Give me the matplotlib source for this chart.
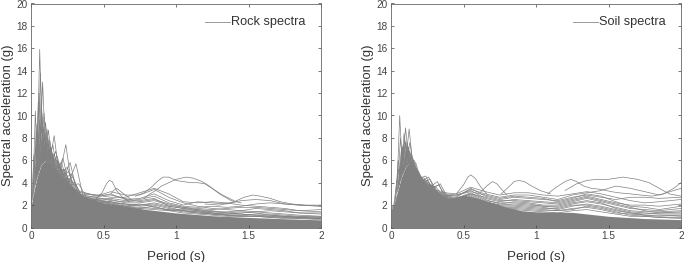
import numpy as np
import matplotlib
matplotlib.use('Agg')
import matplotlib.pyplot as plt

plt.rcParams['font.family'] = ['Liberation Sans', 'DejaVu Sans']

# solid lower mass of the spectra
mass_t = [0, 0.01, 0.02, 0.04, 0.07, 0.1, 0.13, 0.16, 0.2, 0.25, 0.3, 0.35, 0.4, 0.5, 0.6, 0.7, 0.8, 0.9, 1, 1.25, 1.5, 1.75, 2]
rock_mass = [1.8, 2.6, 3.2, 4.4, 5.6, 6.0, 5.8, 5.3, 4.8, 4.2, 3.5, 2.9, 2.6, 2.2, 2.0, 1.8, 1.6, 1.45, 1.3, 1.05, 0.9, 0.78, 0.68]
soil_mass = [1.5, 1.9, 2.1, 3.0, 4.4, 5.4, 5.8, 5.2, 4.4, 3.8, 3.4, 2.9, 2.6, 2.9, 2.6, 2.2, 1.8, 1.5, 1.4, 1.35, 1.0, 0.8, 0.7]

# short period peaks
rock_peak_t = [0.03, 0.04, 0.05, 0.06, 0.065, 0.07, 0.08, 0.09, 0.1, 0.11, 0.12, 0.13, 0.14, 0.15, 0.16, 0.17, 0.18, 0.19, 0.2, 0.22, 0.24, 0.25, 0.27, 0.28, 0.29, 0.31, 0.33,
               0.02, 0.045, 0.075, 0.085, 0.095, 0.105, 0.125, 0.145, 0.055, 0.035, 0.115, 0.135, 0.21,
               0.03, 0.05, 0.07, 0.09, 0.11, 0.13, 0.15, 0.17, 0.19, 0.21, 0.23, 0.26, 0.3, 0.025, 0.06, 0.08, 0.1, 0.12, 0.14, 0.16, 0.18, 0.2, 0.22, 0.24, 0.28]
rock_peak_g = [10.4, 9.2, 11.2, 15.9, 13.8, 11.5, 13.0, 10.2, 9.4, 8.8, 8.7, 7.8, 7.0, 7.4, 8.2, 6.8, 6.4, 5.9, 5.6, 6.2, 7.4, 5.4, 5.8, 4.8, 4.5, 5.7, 3.9,
               6.5, 8.0, 10.0, 9.0, 8.5, 8.2, 7.5, 6.5, 12.0, 8.6, 8.0, 7.2, 5.0,
               7.2, 8.4, 9.0, 8.0, 7.6, 7.0, 6.6, 6.2, 5.6, 5.8, 5.2, 5.0, 4.0, 5.6, 9.6, 8.6, 7.6, 7.2, 6.8, 6.6, 6.0, 5.4, 5.2, 4.8, 4.2]
soil_peak_t = [0.02, 0.04, 0.05, 0.06, 0.07, 0.08, 0.09, 0.1, 0.11, 0.12, 0.125, 0.13, 0.14, 0.15, 0.16, 0.17, 0.18, 0.2, 0.23, 0.24, 0.26, 0.28, 0.32, 0.34, 0.36,
               0.075, 0.085, 0.095, 0.105, 0.115, 0.135, 0.145, 0.065, 0.22, 0.25, 0.3,
               0.05, 0.07, 0.09, 0.11, 0.13, 0.15, 0.17, 0.19, 0.21, 0.23, 0.27, 0.29, 0.33, 0.08, 0.1, 0.12, 0.14, 0.16, 0.18, 0.2, 0.26, 0.31]
soil_peak_g = [2.1, 4.2, 6.0, 10.0, 6.0, 6.4, 8.4, 8.9, 7.2, 7.0, 8.8, 7.6, 6.4, 6.0, 6.0, 5.4, 5.0, 4.2, 4.4, 4.6, 4.5, 3.8, 4.1, 3.9, 3.2,
               7.0, 7.4, 7.8, 6.8, 6.6, 6.2, 5.6, 8.0, 4.2, 4.2, 3.4,
               5.2, 6.8, 7.2, 7.6, 6.8, 6.2, 5.8, 5.0, 4.4, 4.2, 4.3, 3.6, 3.8, 7.2, 7.6, 7.2, 6.6, 5.6, 5.2, 4.6, 4.0, 3.6]

# longer period spectra
long_t = [0.3, 0.45, 0.55, 0.65, 0.75, 0.85, 0.95, 1.05, 1.15, 1.25, 1.35, 1.45, 1.55, 1.65, 1.75, 1.85, 2]
rock_long = [
    [3.4, 2.8, 3.2, 2.9, 2.9, 3.4, 2.7, 2.2, 1.9, 1.7, 1.6, 1.5, 1.4, 1.3, 1.2, 1.1, 1.0],
    [3.2, 2.9, 2.7, 2.7, 3.1, 3.5, 3.0, 2.3, 2.2, 2.3, 2.2, 2.0, 1.9, 1.8, 1.7, 1.5, 1.4],
    [3.0, 2.7, 3.0, 2.5, 2.6, 3.0, 2.4, 2.0, 2.3, 2.2, 2.1, 2.4, 2.5, 2.4, 2.1, 2.0, 1.9],
    [2.9, 2.5, 2.6, 2.4, 2.5, 2.8, 2.2, 1.9, 1.8, 1.9, 1.8, 1.9, 2.1, 2.2, 2.1, 2.0, 1.9],
    [2.8, 2.6, 2.5, 2.2, 2.2, 2.4, 2.0, 1.8, 1.7, 1.6, 1.7, 1.8, 1.8, 1.7, 1.6, 1.5, 1.6],
    [2.7, 2.4, 2.3, 2.0, 2.0, 2.2, 1.9, 1.7, 1.5, 1.4, 1.4, 1.5, 1.7, 1.6, 1.5, 1.3, 1.2],
    [2.6, 2.3, 2.2, 2.1, 1.9, 2.0, 1.7, 1.5, 1.4, 1.3, 1.2, 1.3, 1.4, 1.5, 1.4, 1.3, 1.3],
    [2.5, 2.2, 2.0, 1.9, 2.1, 1.8, 1.6, 1.4, 1.3, 1.2, 1.1, 1.1, 1.2, 1.2, 1.1, 1.0, 1.0],
    [2.6, 2.5, 2.1, 1.8, 1.7, 1.9, 1.5, 1.6, 1.5, 1.3, 1.1, 1.0, 1.0, 0.9, 0.9, 0.9, 0.8],
    [3.0, 2.9, 2.9, 2.6, 2.3, 2.5, 2.1, 1.8, 1.6, 1.5, 1.3, 1.2, 1.1, 1.1, 1.0, 0.9, 0.9],
    [2.9, 2.7, 2.4, 2.3, 2.4, 2.6, 1.9, 1.7, 1.6, 1.4, 1.3, 1.4, 1.3, 1.1, 1.0, 1.0, 0.9],
    [2.8, 2.5, 2.3, 2.1, 2.0, 2.1, 1.8, 1.5, 1.4, 1.2, 1.2, 1.2, 1.1, 1.0, 1.0, 0.9, 0.8],
    [2.7, 2.4, 2.2, 1.9, 1.8, 1.7, 1.6, 1.5, 1.3, 1.2, 1.1, 1.1, 1.0, 1.0, 0.9, 0.8, 0.8],
    [2.6, 2.3, 2.1, 1.9, 1.7, 1.6, 1.5, 1.3, 1.2, 1.1, 1.0, 1.0, 1.0, 0.9, 0.8, 0.8, 0.7],
]
soil_long = [
    [3.2, 3.0, 3.6, 3.2, 2.9, 3.1, 3.1, 2.9, 2.8, 3.0, 3.2, 3.0, 2.7, 2.4, 2.2, 2.3, 2.5],
    [3.0, 2.8, 3.4, 3.0, 2.7, 2.9, 2.9, 2.7, 2.5, 2.9, 3.1, 3.3, 3.7, 3.5, 3.2, 2.9, 3.5],
    [2.9, 2.7, 3.5, 2.8, 2.5, 2.7, 2.6, 2.5, 2.4, 2.7, 2.9, 2.7, 2.5, 2.7, 2.7, 2.6, 2.7],
    [2.8, 2.9, 3.3, 2.6, 2.3, 2.5, 2.4, 2.3, 2.2, 2.5, 2.8, 2.5, 2.2, 2.0, 2.0, 1.9, 2.1],
    [2.7, 2.6, 3.1, 2.5, 2.1, 2.3, 2.2, 2.0, 2.0, 2.3, 2.6, 2.3, 2.0, 1.7, 1.6, 1.5, 1.7],
    [2.6, 2.5, 2.9, 2.3, 2.0, 2.1, 2.0, 1.9, 1.8, 2.1, 2.3, 2.1, 1.8, 1.5, 1.4, 1.4, 1.5],
    [2.5, 2.4, 2.8, 2.2, 1.9, 1.9, 1.8, 1.7, 1.7, 2.0, 2.0, 1.8, 1.5, 1.3, 1.2, 1.3, 1.3],
    [2.4, 2.3, 2.6, 2.1, 1.8, 1.8, 1.7, 1.6, 1.5, 1.7, 1.8, 1.6, 1.3, 1.2, 1.1, 1.0, 1.1],
    [2.3, 2.2, 2.4, 1.9, 1.6, 1.6, 1.5, 1.4, 1.3, 1.5, 1.6, 1.4, 1.2, 1.0, 1.0, 0.9, 0.9],
    [3.1, 2.9, 3.2, 2.9, 2.6, 2.8, 2.7, 2.6, 2.3, 2.6, 3.0, 2.8, 2.3, 1.9, 1.8, 1.6, 1.9],
    [2.9, 2.6, 3.0, 2.7, 2.4, 2.4, 2.3, 2.2, 2.1, 2.4, 2.7, 2.4, 2.1, 1.8, 1.5, 1.3, 1.4],
    [2.8, 2.5, 3.0, 2.4, 2.2, 2.2, 2.1, 1.9, 1.9, 2.2, 2.4, 2.2, 1.7, 1.4, 1.3, 1.2, 1.2],
    [2.7, 2.4, 2.7, 2.3, 2.0, 2.0, 1.9, 1.8, 1.6, 1.9, 2.1, 1.9, 1.6, 1.3, 1.1, 1.1, 1.0],
    [2.6, 2.4, 2.6, 2.0, 1.7, 1.7, 1.6, 1.5, 1.5, 1.6, 1.9, 1.7, 1.4, 1.1, 1.0, 0.9, 0.8],
]

# spectra that stand out above the rest
rock_hump_t = [
    [0.45, 0.49, 0.52, 0.54, 0.56, 0.59, 0.63, 0.68],
    [0.55, 0.57, 0.59, 0.62, 0.66, 0.7],
    [0.72, 0.78, 0.83, 0.87, 0.91, 0.95, 1.0, 1.05, 1.1, 1.15, 1.2, 1.26, 1.32, 1.4],
    [0.78, 0.82, 0.86, 0.9, 0.95, 1.0, 1.07, 1.12, 1.18, 1.23, 1.3, 1.38, 1.45],
    [1.2, 1.3, 1.4, 1.47, 1.53, 1.58, 1.65, 1.72, 1.8, 1.9, 2],
]
rock_hump_g = [
    [2.6, 3.1, 3.9, 4.2, 4.1, 3.3, 2.7, 2.3],
    [3.0, 3.3, 3.5, 3.2, 2.8, 2.4],
    [2.8, 3.1, 3.6, 4.1, 4.5, 4.5, 4.2, 4.1, 4.0, 4.0, 3.9, 3.4, 2.9, 2.4],
    [2.6, 3.0, 3.3, 3.7, 4.0, 4.3, 4.5, 4.4, 4.1, 3.7, 3.0, 2.4, 2.2],
    [2.1, 2.0, 2.3, 2.7, 2.9, 2.8, 2.6, 2.3, 2.1, 2.0, 2.0],
]
soil_hump_t = [
    [0.45, 0.5, 0.53, 0.55, 0.58, 0.62, 0.66],
    [0.62, 0.66, 0.7, 0.73, 0.77, 0.8],
    [0.76, 0.81, 0.85, 0.88, 0.92, 0.97, 1.03, 1.1],
    [1.08, 1.14, 1.2, 1.24, 1.28, 1.33, 1.38, 1.45, 1.52, 1.57, 1.65, 1.72, 1.8, 1.88, 1.95, 2],
    [1.2, 1.28, 1.35, 1.42, 1.5, 1.6, 1.7, 1.78, 1.85, 1.92, 2],
]
soil_hump_g = [
    [3.0, 3.8, 4.5, 4.7, 4.4, 3.6, 3.0],
    [3.2, 3.7, 4.1, 3.9, 3.3, 2.9],
    [3.0, 3.6, 4.1, 4.2, 4.1, 3.7, 3.3, 3.0],
    [3.0, 3.6, 4.1, 4.3, 4.1, 3.7, 3.5, 3.4, 3.2, 3.1, 3.0, 2.9, 2.8, 3.0, 3.5, 4.0],
    [3.3, 3.9, 4.2, 4.3, 4.3, 4.5, 4.3, 4.0, 3.5, 3.0, 2.8],
]

gray = '#808080'
fig = plt.figure(figsize=(6.85, 2.62), dpi=100)


def draw_panel(box, label, leg_x, mass, peak_t, peak_g, long_g, hump_t, hump_g):
    ax = fig.add_axes(box)
    ax.fill_between(mass_t, 0, mass, color=gray, lw=0)
    for t, g in zip(peak_t, peak_g):
        w = 0.014 + 0.11 * t
        side = np.interp([t - w, t + w], mass_t, mass)
        ax.plot([t - w, t, t + w], [side[0], g, side[1]], color=gray, lw=0.5)
    for g in long_g:
        ax.plot(long_t, g, color=gray, lw=0.5)
    for t, g in zip(hump_t, hump_g):
        ax.plot(t, g, color=gray, lw=0.5)

    ax.set_xlim(0, 2)
    ax.set_ylim(0, 20)
    ax.set_xticks([0, 0.5, 1, 1.5, 2])
    ax.set_xticklabels(['0', '0.5', '1', '1.5', '2'])
    ax.set_yticks(range(0, 21, 2))
    ax.tick_params(direction='in', top=True, right=True, length=2.2, width=0.5,
                   labelsize=7.2, colors='#444444', pad=2.5)
    for s in ax.spines.values():
        s.set_linewidth(0.6)
        s.set_color('#666666')
    ax.set_xlabel('Period (s)', fontsize=9.6, color='#333333', labelpad=7)
    ax.set_ylabel('Spectral acceleration (g)', fontsize=9.4, color='#333333', labelpad=2)
    # legend entry
    ax.plot([leg_x, leg_x + 0.17], [18.37, 18.37], color='#999999', lw=0.7)
    ax.text(leg_x + 0.18, 18.37, label, fontsize=9.2, color='#333333', va='center')
    return ax


draw_panel([31 / 685, 1 - 227.5 / 262, 290 / 685, 224 / 262], 'Rock spectra', 1.2,
           rock_mass, rock_peak_t, rock_peak_g, rock_long, rock_hump_t, rock_hump_g)
draw_panel([391 / 685, 1 - 227.5 / 262, 290 / 685, 224 / 262], 'Soil spectra', 1.255,
           soil_mass, soil_peak_t, soil_peak_g, soil_long, soil_hump_t, soil_hump_g)

fig.savefig('out.png', dpi=100)
